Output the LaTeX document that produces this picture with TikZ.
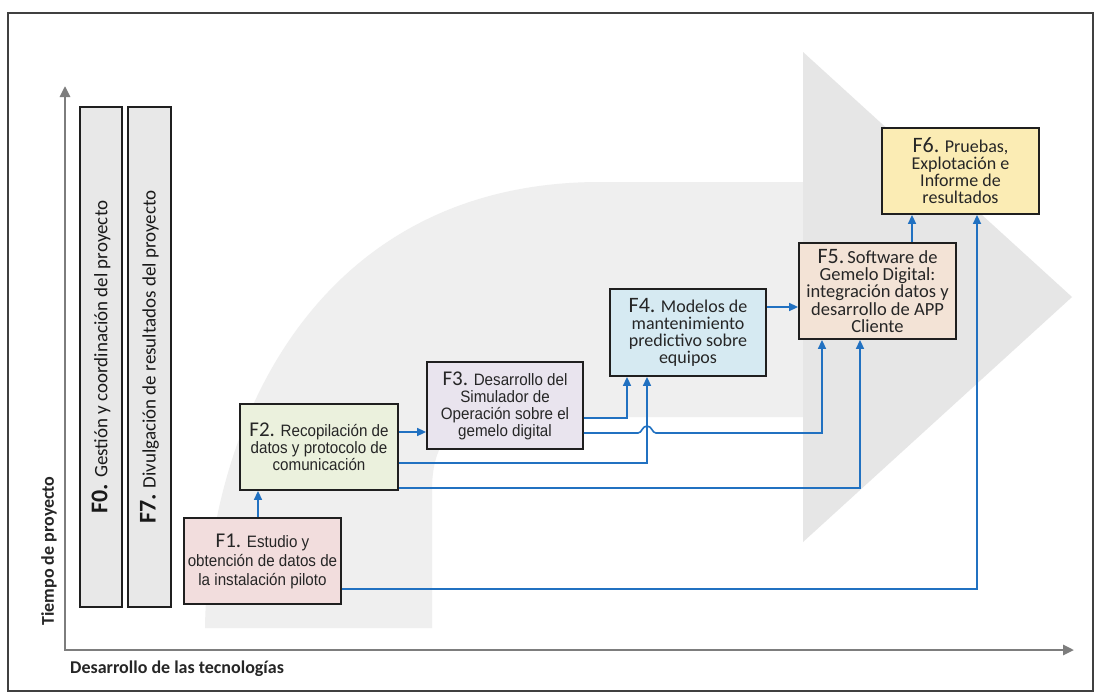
\documentclass[tikz,border=0pt]{standalone}
\usepackage{fontspec}
\usetikzlibrary{arrows.meta}
\newfontfamily\narrowf[FakeStretch=0.92]{Liberation Sans}
\newfontfamily\calf{Carlito}
\definecolor{linkblue}{RGB}{33,113,193}
\definecolor{axisgray}{RGB}{125,125,125}
\definecolor{shaftgray}{RGB}{239,239,239}
\definecolor{headgray}{RGB}{230,230,230}
\definecolor{phgray}{RGB}{232,232,232}
\definecolor{fone}{RGB}{242,221,221}
\definecolor{ftwo}{RGB}{235,241,221}
\definecolor{fthree}{RGB}{233,228,238}
\definecolor{ffour}{RGB}{214,234,242}
\definecolor{ffive}{RGB}{243,227,214}
\definecolor{fsix}{RGB}{251,236,180}
\newcommand{\phnarrow}[1]{{\calf\fontsize{21}{19}\selectfont #1}}
\newcommand{\phcal}[1]{{\calf\fontsize{22}{19}\selectfont #1}}
\begin{document}
\begin{tikzpicture}[x=1pt,y=-1pt,
  box/.style={draw=black!88, line width=1.8pt, inner sep=0pt, align=center, text=black!85},
  conn/.style={draw=linkblue, line width=1.6pt, -{Triangle[length=9pt,width=8pt]}},
  axisline/.style={draw=axisgray, line width=2.6pt, {Triangle[length=11pt,width=10pt]}-{Triangle[length=11pt,width=10pt]}},
  axlabel/.style={font=\calf\bfseries\fontsize{18}{20}\selectfont, text=black!85, inner sep=0pt},
  nfont/.style={font=\narrowf\fontsize{16.5}{#1}\selectfont},
  cfont/.style={font=\calf\fontsize{18}{#1}\selectfont}]
\useasboundingbox (0,0) rectangle (1102,697);
\fill[white] (0,0) rectangle (1102,697);
% background arrow
\fill[shaftgray] (205,628) .. controls (208,420) and (320,182) .. (600,182) -- (804,182) -- (804,417) -- (500,417) .. controls (455,417) and (432,440) .. (432,490) -- (432,628) -- cycle;
\fill[headgray] (803,52) -- (1072,297) -- (803,542) -- cycle;
% frame
\draw[black!75, line width=1.4pt] (8,13) rectangle (1093,691);
% axes
\coordinate (O) at (65,650);
\coordinate (ytip) at (65,86);
\coordinate (xtip) at (1074,650);
\draw[axisline] (ytip) -- (O) -- (xtip);
\node[axlabel, rotate=90] (ylab) at (49,551) {Tiempo de proyecto};
\node[axlabel, anchor=west] (xlab) at (70,669) {Desarrollo de las tecnologías};
% phase bars
\node[box, fill=phgray, rotate=90, minimum width=500pt, minimum height=42pt, font=\calf\fontsize{19}{22}\selectfont, text=black!90] (f0) at (101,357) {{\bfseries\fontsize{24}{22}\selectfont F0.} Gestión y coordinación del proyecto};
\node[box, fill=phgray, rotate=90, minimum width=500pt, minimum height=43pt, font=\calf\fontsize{19}{22}\selectfont, text=black!90] (f7) at (149.5,357) {{\bfseries\fontsize{24}{22}\selectfont F7.} Divulgación de resultados del proyecto};
% phase boxes
\node[box, fill=fone, nfont=19, minimum width=157pt, minimum height=86pt] (f1) at (262.5,561) {\phnarrow{F1.} Estudio y\\obtención de datos de\\la instalación piloto};
\node[box, fill=ftwo, nfont=17, minimum width=158pt, minimum height=86pt] (f2) at (319,447) {\phnarrow{F2.} Recopilación de\\datos y protocolo de\\comunicación};
\node[box, fill=fthree, nfont=17, minimum width=156pt, minimum height=87pt] (f3) at (505,405.5) {\phnarrow{F3.} Desarrollo del\\Simulador de\\Operación sobre el\\gemelo digital};
\node[box, fill=ffour, cfont=17, minimum width=156pt, minimum height=87pt] (f4) at (688,332.5) {\phcal{F4.} Modelos de\\mantenimiento\\predictivo sobre\\equipos};
\node[box, fill=ffive, font=\calf\fontsize{18.5}{17.2}\selectfont, minimum width=157pt, minimum height=96pt] (f5) at (877.5,291) {\phcal{F5.}\,Software de\\Gemelo Digital:\\integración datos y\\desarrollo de APP\\Cliente};
\node[box, fill=fsix, cfont=17, minimum width=157pt, minimum height=86pt] (f6) at (960.5,171) {\phcal{F6.} Pruebas,\\Explotación e\\Informe de\\resultados};
% connector levels
\coordinate (h589) at (0,589);
\coordinate (h432) at (0,432);
\coordinate (h418) at (0,418);
\coordinate (h433) at (0,433);
\coordinate (h463) at (0,463);
\coordinate (h488) at (0,488);
% connectors
\draw[conn] (f1.east |- h589) -| ([xshift=16.5pt]f6.south);
\draw[conn] ([xshift=-4.5pt]f1.north) -- ([xshift=-4.5pt]f1.north |- f2.south);
\draw[conn] (f2.east |- h432) -- (f3.west |- h432);
\draw[conn] (f3.east |- h418) -| ([xshift=-61pt]f4.south);
\draw[conn] (f2.east |- h463) -| ([xshift=-41pt]f4.south);
\draw[conn] (f3.east |- h433) -- (638,433) .. controls (642,433) and (642,426) .. (647,426) .. controls (652,426) and (652,433) .. (656,433) -| ([xshift=-55.5pt]f5.south);
\draw[conn] (f2.east |- h488) -| ([xshift=-17.5pt]f5.south);
\draw[conn] ([yshift=25.5pt]f4.east) -- ([yshift=25.5pt]f4.east -| f5.west);
\draw[conn] ([xshift=34.5pt]f5.north) -- ([xshift=34.5pt]f5.north |- f6.south);
\end{tikzpicture}
\end{document}
